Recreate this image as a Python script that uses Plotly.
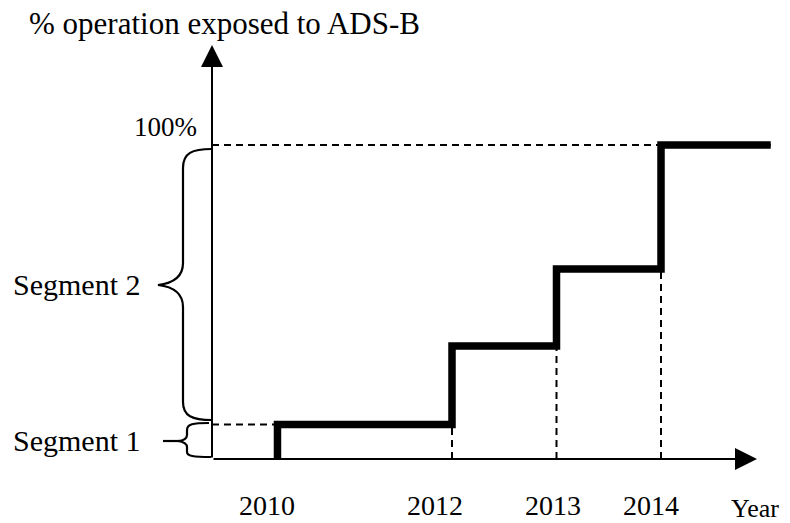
import plotly.graph_objects as go

# ---- data ----
step_years = [2010.33, 2012, 2013, 2014]      # years when coverage steps up
step_levels = [11, 36, 60.5, 100]              # % operation exposed after each step
end_year = 2015.05
tick_labels = ["2010", "2012", "2013", "2014"]
segment1_top = 11
full_level = 100

OFF = 8                      # page body margin
W, H = 790 - 2 * OFF, 523 - OFF
FONT = "Liberation Serif"

# axis mapping (plot area covers the whole figure)
PX_PER_YEAR = 104.5
PX_PER_PCT = 3.14
X_REF_PX, X_REF_YEAR = 452, 2012
Y0_PX = 459


def year_at(p):
    return X_REF_YEAR + (p - X_REF_PX) / PX_PER_YEAR


def pct_at(p):
    return (Y0_PX - p) / PX_PER_PCT


x_range = [year_at(OFF), year_at(OFF + W)]
y_range = [pct_at(OFF + H), pct_at(OFF)]
x_origin = year_at(212)
y_origin = 0
x_tip = year_at(757)
y_tip = pct_at(45)


def px(x):
    return (x - OFF) / W


def py(y):
    return 1 - (y - OFF) / H


def path_px(cmds):
    out = []
    for c in cmds:
        if isinstance(c, str):
            out.append(c)
        else:
            out.append(f"{px(c[0]):.5f},{py(c[1]):.5f}")
    return " ".join(out)


fig = go.Figure()

# step line
xs = [step_years[0]] + step_years + [end_year]
ys = [0] + step_levels + [step_levels[-1]]
fig.add_trace(go.Scatter(x=xs, y=ys, mode="lines", line=dict(color="black", width=7.5, shape="hv"),
                         hoverinfo="skip", showlegend=False))

dash = "7px,5px"
shapes = []
# dashed guide lines
shapes.append(dict(type="line", x0=x_origin, x1=end_year, y0=full_level, y1=full_level,
                   line=dict(color="black", width=2, dash=dash), layer="below"))
shapes.append(dict(type="line", x0=x_origin, x1=step_years[0], y0=segment1_top, y1=segment1_top,
                   line=dict(color="black", width=2, dash=dash), layer="below"))
for i in range(1, len(step_years)):
    shapes.append(dict(type="line", x0=step_years[i], x1=step_years[i], y0=0, y1=step_levels[i - 1],
                       line=dict(color="black", width=2, dash=dash), layer="below"))

# braces
brace2 = path_px(["M", (212, 149), "C", (192, 149), (183, 153), (183, 168), "L", (183, 263),
                  "C", (183, 276), (175, 283), (158, 285), "C", (175, 287), (183, 294), (183, 307),
                  "L", (183, 402), "C", (183, 416), (192, 420), (212, 420)])
brace1 = path_px(["M", (209, 423), "C", (193, 423), (187, 424), (187, 430), "L", (187, 435),
                  "C", (187, 438), (184, 441), (178, 441), "C", (184, 442), (187, 444), (187, 447),
                  "L", (187, 452), "C", (187, 456), (193, 457), (211, 457)])
stem1 = path_px(["M", (163, 441), "L", (179, 441)])
for p in (brace2, brace1, stem1):
    shapes.append(dict(type="path", path=p, xref="paper", yref="paper",
                       line=dict(color="black", width=2.2)))

annotations = []
# axes with arrows
annotations.append(dict(x=x_tip, y=y_origin, ax=x_origin, ay=y_origin, xref="x", yref="y",
                        axref="x", ayref="y", showarrow=True, arrowhead=2, arrowsize=2.2,
                        arrowwidth=2, arrowcolor="black", text=""))
annotations.append(dict(x=x_origin, y=y_tip, ax=x_origin, ay=y_origin, xref="x", yref="y",
                        axref="x", ayref="y", showarrow=True, arrowhead=2, arrowsize=2.2,
                        arrowwidth=2, arrowcolor="black", text=""))

tf = dict(family=FONT, size=28, color="black")
label_shift = [-10, -17, -4, -10]
# year labels
for yr, lab, sh in zip(step_years, tick_labels, label_shift):
    annotations.append(dict(x=yr, y=pct_at(505), xref="x", yref="y", text=lab, showarrow=False,
                            xanchor="center", yanchor="middle", xshift=sh, font=tf))
annotations.append(dict(x=px(781), y=py(508), xref="paper", yref="paper", text="Year",
                        showarrow=False, xanchor="right", yanchor="middle",
                        font=dict(family=FONT, size=26, color="black")))
annotations.append(dict(x=px(199), y=py(127), xref="paper", yref="paper", text="100%",
                        showarrow=False, xanchor="right", yanchor="middle",
                        font=dict(family=FONT, size=27, color="black")))
annotations.append(dict(x=px(11), y=py(284), xref="paper", yref="paper", text="Segment 2",
                        showarrow=False, xanchor="left", yanchor="middle",
                        font=dict(family=FONT, size=30, color="black")))
annotations.append(dict(x=px(11), y=py(440), xref="paper", yref="paper", text="Segment 1",
                        showarrow=False, xanchor="left", yanchor="middle",
                        font=dict(family=FONT, size=30, color="black")))
annotations.append(dict(x=px(27), y=py(24), xref="paper", yref="paper",
                        text="% operation exposed to ADS-B", showarrow=False,
                        xanchor="left", yanchor="middle", font=dict(family=FONT, size=31, color="black")))

fig.update_layout(
    width=W, height=H,
    margin=dict(l=0, r=0, t=0, b=0),
    paper_bgcolor="white", plot_bgcolor="white",
    xaxis=dict(range=x_range, visible=False, fixedrange=True),
    yaxis=dict(range=y_range, visible=False, fixedrange=True),
    shapes=shapes, annotations=annotations, showlegend=False,
)

fig.write_html("out.html")
